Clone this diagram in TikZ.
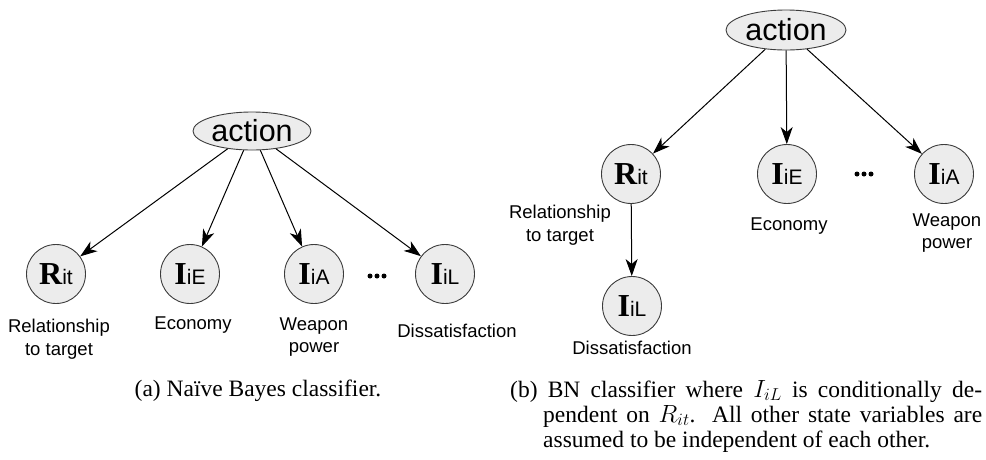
\documentclass[tikz,border=0pt]{standalone}
\usepackage{fontspec}
\setmainfont{Liberation Serif}
\setsansfont{Liberation Sans}
\usetikzlibrary{shapes.geometric,arrows.meta}
\definecolor{nodefill}{RGB}{236,236,236}
\definecolor{nodeline}{RGB}{60,60,60}
\tikzset{
  actnode/.style={ellipse,draw=nodeline,fill=nodefill,line width=0.9pt,minimum width=118pt,minimum height=38pt,inner sep=0pt,font=\sffamily\fontsize{30.5}{30.5}\selectfont},
  varnode/.style={circle,draw=nodeline,fill=nodefill,line width=0.9pt,minimum size=59pt,inner sep=0pt},
  lbl/.style={align=center,inner sep=0pt,font=\sffamily\fontsize{18.5}{22.5}\selectfont},
  arr/.style={draw=black,line width=1pt,-{Stealth[length=17pt,width=12pt,inset=5pt]}},
  captxt/.style={inner sep=0pt,font=\fontsize{23.5}{25}\selectfont}
}
\newcommand{\vlab}[2]{{\fontsize{32}{32}\selectfont\bfseries #1}{\sffamily\fontsize{21}{21}\selectfont #2}}
\begin{document}
\begin{tikzpicture}[x=1pt,y=-1pt]
\useasboundingbox (0,0) rectangle (986,459);
% ---- (a) ----
\node[actnode] (a0) at (252,131) {action};
\node[varnode] (aR) at (56,274) {\vlab{R}{it}};
\node[varnode] (aE) at (190,274) {\vlab{I}{iE}};
\node[varnode] (aA) at (314,274) {\vlab{I}{iA}};
\node[varnode] (aL) at (445,274) {\vlab{I}{iL}};
\foreach \dx in {-7,0,7} \fill (377+\dx,276) circle (2.5);
\draw[arr] (a0) -- (aR);
\draw[arr] (a0) -- (aE);
\draw[arr] (a0) -- (aA);
\draw[arr] (a0) -- (aL);
\node[lbl] (aRl) at (59,339) {Relationship\\to target};
\node[lbl] (aEl) at (193,325) {Economy};
\node[lbl] (aAl) at (314,337) {Weapon\\power};
\node[lbl] (aLl) at (457,331) {Dissatisfaction};
\node[captxt,anchor=base] (capa) at (258,396) {(a) Naïve Bayes classifier.};
% ---- (b) ----
\node[actnode,minimum width=120pt,minimum height=40pt] (b0) at (786,30) {action};
\node[varnode] (bR) at (631,174) {\vlab{R}{it}};
\node[varnode] (bE) at (787,174) {\vlab{I}{iE}};
\node[varnode] (bA) at (944,174) {\vlab{I}{iA}};
\node[varnode] (bL) at (632,306) {\vlab{I}{iL}};
\foreach \dx in {-7,0,7} \fill (864+\dx,174) circle (2.5);
\draw[arr] (b0) -- (bR);
\draw[arr] (b0) -- (bE);
\draw[arr] (b0) -- (bA);
\draw[arr] (bR) -- (bL);
\node[lbl] (bRl) at (560,225) {Relationship\\to target};
\node[lbl] (bEl) at (789,226) {Economy};
\node[lbl] (bAl) at (947,233) {Weapon\\power};
\node[lbl] (bLl) at (632,348) {Dissatisfaction};
\node[captxt,anchor=base west] (capb1) at (510,397) {\makebox[472pt][s]{(b) BN classifier where $I_{iL}$ is conditionally de-}};
\node[captxt,anchor=base west] (capb2) at (543,422) {\makebox[439pt][s]{pendent on $R_{it}$. All other state variables are}};
\node[captxt,anchor=base west] (capb3) at (543,447) {assumed to be independent of each other.};
\end{tikzpicture}
\end{document}
